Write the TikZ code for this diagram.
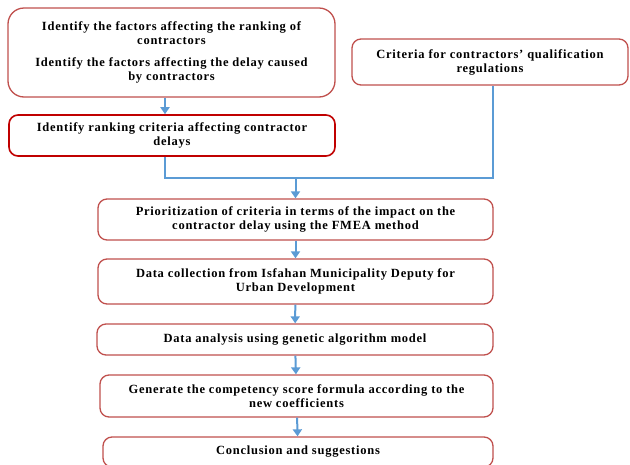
\documentclass[tikz,border=0pt]{standalone}
\usepackage{fontspec}
\setmainfont{Liberation Serif}
\usetikzlibrary{arrows.meta}

\definecolor{boxred}{HTML}{C0504D}
\definecolor{darkred}{HTML}{C00000}
\definecolor{flowblue}{HTML}{5B9BD5}

\begin{document}
\begin{tikzpicture}[x=1pt,y=-1pt,
  stepbox/.style={draw=boxred,line width=1.3pt,rounded corners=9pt,fill=white,
    align=center,inner sep=2pt,font=\fontsize{12.5}{14}\selectfont\addfontfeatures{LetterSpace=6}\bfseries},
  flow/.style={draw=flowblue,line width=2pt},
  arr/.style={flow,-{Triangle[width=9pt,length=7pt]}}]
  \useasboundingbox (0,0) rectangle (630,464);
  % top boxes
  \node[stepbox,rounded corners=16pt,minimum width=327pt,minimum height=89pt] (factors) at (171.5,52.5)
    {Identify the factors affecting the ranking of\\contractors\\[8pt]
     Identify the factors affecting the delay caused\\by contractors};
  \node[stepbox,draw=darkred,line width=1.6pt,minimum width=326pt,minimum height=41pt] (ranking) at (172,135.5)
    {Identify ranking criteria affecting contractor\\delays};
  \node[stepbox,minimum width=276pt,minimum height=46pt] (regs) at (490,62)
    {Criteria for contractors' qualification\\regulations};
  % main column
  \node[stepbox,minimum width=395pt,minimum height=41pt] (fmea) at (295.5,219.5)
    {Prioritization of criteria in terms of the impact on the\\contractor delay using the FMEA method};
  \node[stepbox,minimum width=395pt,minimum height=45pt] (data) at (295.5,281.5)
    {Data collection from Isfahan Municipality Deputy for\\Urban Development};
  \node[stepbox,minimum width=396pt,minimum height=31pt] (ga) at (295,339.5)
    {Data analysis using genetic algorithm model};
  \node[stepbox,minimum width=393pt,minimum height=42pt] (score) at (296.5,396)
    {Generate the competency score formula according to the\\new coefficients};
  \node[stepbox,minimum width=390pt,minimum height=30pt] (concl) at (298,452)
    {Conclusion and suggestions};
  % connectors
  \coordinate (split) at (165,178);
  \coordinate (join) at (295.5,178);
  \coordinate (side) at (493,178);
  \draw[arr] (factors.south -| split) -- (ranking.north -| split);
  \draw[flow] (ranking.south -| split) -- (split) -- (side) -- (regs.south -| side);
  \draw[arr] (join) -- (fmea.north);
  \draw[arr] (fmea) -- (data);
  \draw[arr] (data) -- (ga);
  \draw[arr] (ga) -- (score);
  \draw[arr] (score) -- (concl);
\end{tikzpicture}
\end{document}
